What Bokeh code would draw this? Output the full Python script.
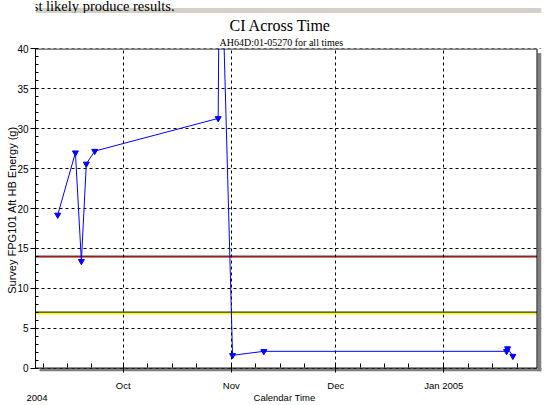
from datetime import datetime
from bokeh.plotting import figure
from bokeh.layouts import column
from bokeh.models import (Range1d, FixedTicker, CustomJSTickFormatter, LinearAxis,
                          ColumnDataSource, Title)
from bokeh.core.properties import value
from bokeh.embed import file_html
from bokeh.resources import INLINE

# ---------------- data ----------------
obs_times = ["2004-09-12 05:00", "2004-09-17 07:00", "2004-09-19 00:00",
             "2004-09-20 10:00", "2004-09-22 20:00", "2004-10-28 06:00",
             "2004-10-28 17:00", "2004-11-01 09:00", "2004-11-10 08:00",
             "2005-01-19 00:00", "2005-01-19 07:00", "2005-01-20 19:00"]
ci_values = [19.2, 27.0, 13.4, 25.6, 27.2, 31.3, 60.0, 1.6, 2.1, 2.1, 2.45, 1.5]

alarm_level = 14
caution_level = 7

month_ticks = ["2004-10-01", "2004-11-01", "2004-12-01", "2005-01-01"]
week_ticks = ["2004-09-08", "2004-09-15", "2004-09-22",
              "2004-10-08", "2004-10-15", "2004-10-22",
              "2004-11-08", "2004-11-15", "2004-11-22",
              "2004-12-08", "2004-12-15", "2004-12-22",
              "2005-01-08", "2005-01-15", "2005-01-22"]
x_start, x_end = "2004-09-05 20:00", "2005-01-27 14:00"
y_start, y_end = 0, 40

title_text = "CI Across Time"
subtitle_text = "AH64D:01-05270 for all times"
y_label = "Survey FPG101 Aft HB Energy (g)"
x_label = "Calendar Time"
year_label = "2004"
doc_text = "st likely produce results."


def ms(s):
    fmt = "%Y-%m-%d %H:%M" if " " in s else "%Y-%m-%d"
    return (datetime.strptime(s, fmt) - datetime(1970, 1, 1)).total_seconds() * 1000.0


W, H = 553, 405
TOP_H = 13                     # strip with the window chrome above the chart
MAIN_H = H - TOP_H
BOX_L, BOX_R, BOX_T, BOX_B = 35, 536.5, 48.5, 373.5   # plot box (absolute px)
FR_R, FR_T, FR_B = 541, 48, 377                        # frame incl. shadow
SH = 4                                                 # shadow depth
xs, xe = ms(x_start), ms(x_end)


def x_of(px):
    return xs + (px - 35) / (536 - 35) * (xe - xs)


def y_of(py):
    return y_start + (BOX_B - py) / (BOX_B - BOX_T) * (y_end - y_start)


serif = "Liberation Serif"
font = "Liberation Sans"

# ---------------- top strip (document text + window border) ----------------
top = figure(width=W, height=TOP_H, output_backend="svg", toolbar_location=None,
             x_range=Range1d(0, W), y_range=Range1d(TOP_H, 0),
             min_border=0, x_axis_location=None, y_axis_location=None, title=None)
top.outline_line_color = None
top.grid.visible = False
top.background_fill_color = "white"
top.border_fill_color = "white"
chrome = "#d4d0c8"
top.quad(left=[0, 4], right=[W, 7.5], top=[7.5, 7.5], bottom=[12.7, TOP_H],
         fill_color=chrome, line_color=None)
top.text(x=[-3], y=[5], text=[doc_text], text_font=value(serif),
         text_font_size="14.5px", text_baseline="alphabetic", text_align="left",
         text_color="black")

# ---------------- main chart ----------------
p = figure(width=W, height=MAIN_H, output_backend="svg", toolbar_location=None,
           x_range=Range1d(xs, x_of(FR_R)), y_range=Range1d(y_of(FR_B), y_of(FR_T)),
           min_border_left=35, min_border_right=W - FR_R, min_border_top=FR_T - TOP_H,
           min_border_bottom=H - FR_B, x_axis_type="datetime", title=None)
p.background_fill_color = "white"
p.border_fill_color = "white"
p.outline_line_color = None

main_x = p.below[0]
main_y = p.left[0]

# titles (subtitle nearest to the frame)
p.add_layout(Title(text=subtitle_text, align="left", text_font=serif, text_color="black",
                   text_font_size="10px", text_font_style="normal",
                   standoff=1, offset=219 - 35), "above")
p.add_layout(Title(text=title_text, align="left", text_font=serif, text_color="black",
                   text_font_size="16px", text_font_style="normal",
                   standoff=1, offset=229 - 35), "above")

main_x.ticker = FixedTicker(ticks=[ms(t) for t in month_ticks],
                            minor_ticks=[ms(t) for t in week_ticks])
main_x.formatter = CustomJSTickFormatter(code="""
const d = new Date(tick);
const m = ["Jan","Feb","Mar","Apr","May","Jun","Jul","Aug","Sep","Oct","Nov","Dec"][d.getUTCMonth()];
return d.getUTCMonth() == 0 ? m + " " + d.getUTCFullYear() : m;
""")
main_x.axis_line_color = None
main_x.major_tick_line_color = "black"
main_x.minor_tick_line_color = "black"
main_x.major_tick_in = 8
main_x.major_tick_out = 1
main_x.minor_tick_in = 8
main_x.minor_tick_out = -4
main_x.major_label_standoff = 7
main_x.major_label_text_font = font
main_x.major_label_text_font_size = "9.5px"
main_x.major_label_text_color = "black"
main_x.axis_label = None

main_y.bounds = (y_start, y_end)
main_y.ticker.desired_num_ticks = 8
main_y.ticker.num_minor_ticks = 5
main_y.axis_line_color = "black"
main_y.major_tick_line_color = "black"
main_y.minor_tick_line_color = "black"
main_y.major_tick_in = 0
main_y.major_tick_out = 5
main_y.minor_tick_in = 3
main_y.minor_tick_out = 0
main_y.major_label_standoff = 2
main_y.major_label_text_font = font
main_y.major_label_text_font_size = "10px"
main_y.major_label_text_color = "black"
main_y.axis_label = y_label
main_y.axis_label_text_font = font
main_y.axis_label_text_font_size = "11px"
main_y.axis_label_text_font_style = "normal"
main_y.axis_label_text_color = "black"
main_y.axis_label_standoff = -4

for g in (p.xgrid[0], p.ygrid[0]):
    g.grid_line_color = "black"
    g.grid_line_dash = "3 3"
    g.grid_line_width = 1

# year and axis title row under the month labels
p.add_layout(LinearAxis(ticker=FixedTicker(ticks=[x_of(36.5), x_of(284)], minor_ticks=[]),
                        formatter=CustomJSTickFormatter(args=dict(labels=[year_label, x_label]),
                                                        code="return labels[index] ?? '';"),
                        axis_line_color=None, major_tick_line_color=None,
                        minor_tick_line_color=None, major_tick_in=0, major_tick_out=0,
                        minor_tick_in=0, minor_tick_out=0, major_label_standoff=-2,
                        major_label_text_font=font, major_label_text_font_size="9.5px",
                        major_label_text_color="black", axis_label=None), "below")


# threshold lines: black edge with the coloured line just beneath (pixel snapped)
def snap(v, d=0.0):
    py = BOX_B - (v - y_start) / (y_end - y_start) * (BOX_B - BOX_T)
    return y_of(int(py) + 0.5 + d)


box_right = x_of(BOX_R)
p.segment(x0=[xs] * 4, x1=[box_right] * 4,
          y0=[snap(alarm_level, 1), snap(alarm_level), snap(caution_level, 1.5), snap(caution_level)],
          y1=[snap(alarm_level, 1), snap(alarm_level), snap(caution_level, 1.5), snap(caution_level)],
          line_color=["red", "black", "yellow", "black"], line_width=[1, 1, 2, 1])

src = ColumnDataSource(dict(x=[ms(t) for t in obs_times], y=ci_values))
p.line("x", "y", source=src, line_color="blue", line_width=1)
p.scatter("x", "y", source=src, marker="inverted_triangle", size=6,
          fill_color="blue", line_color="blue")

# grey drop shadow and the plot box
shadow = "#808080"
p.quad(left=[x_of(BOX_R + 0.5), x_of(BOX_L + SH)], right=[x_of(FR_R), x_of(FR_R)],
       bottom=[y_of(FR_B), y_of(FR_B)], top=[y_of(BOX_T + SH), y_of(BOX_B + 0.5)],
       fill_color=shadow, line_color=None)
p.quad(left=[xs], right=[box_right], bottom=[y_start], top=[y_end],
       fill_color=None, line_color="black", line_width=1)

layout = column(top, p, spacing=0)
open("out.html", "w").write(file_html(layout, INLINE))
